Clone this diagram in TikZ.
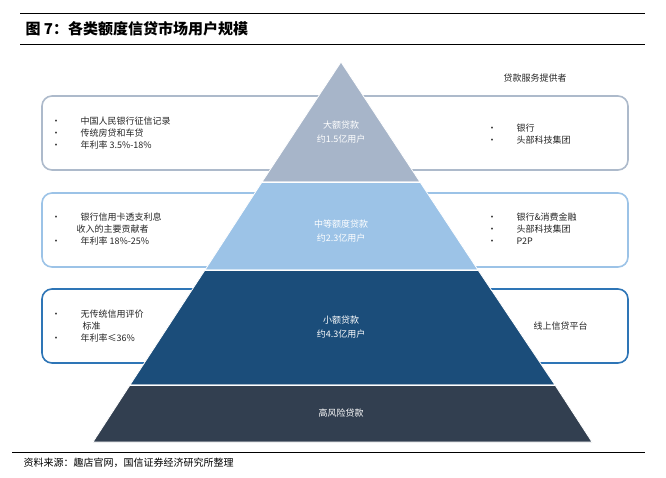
\documentclass[tikz,border=0pt]{standalone}
\usepackage{fontspec}
\setmainfont{Noto Sans CJK SC}
\definecolor{TopGray}{HTML}{A7B5C9}
\definecolor{MidBlue}{HTML}{9CC3E7}
\definecolor{SmallBlue}{HTML}{1B4D7A}
\definecolor{RiskSlate}{HTML}{323F50}
\definecolor{BoxGray}{HTML}{ADBACB}
\definecolor{BoxBlue}{HTML}{2E75B6}
\begin{document}
\begin{tikzpicture}[x=1pt,y=-1pt,
    InfoBox/.style={rounded corners=10pt, line width=1.6pt, fill=white},
    Layer/.style={draw=white, line width=0.8pt},
    LayerText/.style={font=\fontsize{9}{14}\selectfont, text=white, align=center},
    ListText/.style={font=\fontsize{9}{12}\selectfont, anchor=west, align=left, text=black!85}]
     \useasboundingbox (0,0) rectangle (666,477);
     % title
     \draw[line width=1pt] (20,13) -- (645,13);
     \draw[line width=1pt] (20,44) -- (645,44);
     \node[anchor=west, font=\bfseries\fontsize{15}{17}\selectfont] (TitleLabel) at (22,29) {图 7：各类额度信贷市场用户规模};
     % boxes
     \draw[InfoBox, draw=BoxGray] (42,96) rectangle (628,170);
     \draw[InfoBox, draw=MidBlue] (42,193) rectangle (628,267);
     \draw[InfoBox, draw=BoxBlue] (42,289) rectangle (628,363);
     % pyramid
     \fill[Layer, fill=TopGray] (341,62) -- (420,182) -- (262,182) -- cycle;
     \fill[Layer, fill=MidBlue] (262,182) -- (420,182) -- (478,270) -- (205,270) -- cycle;
     \fill[Layer, fill=SmallBlue] (205,270) -- (478,270) -- (555,385) -- (130,385) -- cycle;
     \fill[Layer, fill=RiskSlate] (130,385) -- (555,385) -- (592,442) -- (93,442) -- cycle;
     \draw[white, line width=0.8pt] (262,182) -- (420,182) (205,270) -- (478,270) (130,385) -- (555,385);
     \node[LayerText] (BigLabel) at (341,132) {大额贷款\\约1.5亿用户};
     \node[LayerText] (MidLabel) at (341,231) {中等额度贷款\\约2.3亿用户};
     \node[LayerText] (SmallLabel) at (341,327) {小额贷款\\约4.3亿用户};
     \node[LayerText] (RiskLabel) at (341,413) {高风险贷款};
     % left lists
     \node[ListText] (BigLeft) at (48,133) {•\hspace{20pt}中国人民银行征信记录\\•\hspace{20pt}传统房贷和车贷\\•\hspace{20pt}年利率 3.5\%-18\%};
     \node[ListText] (MidLeft) at (48,229) {•\hspace{20pt}银行信用卡透支利息\\\hspace{25pt}收入的主要贡献者\\•\hspace{20pt}年利率 18\%-25\%};
     \node[ListText] (SmallLeft) at (48,326) {•\hspace{20pt}无传统信用评价\\\hspace{31pt}标准\\•\hspace{20pt}年利率≤36\%};
     % right lists
     \node[font=\fontsize{9}{11}\selectfont, text=black!85] (ProviderLabel) at (535,78) {贷款服务提供者};
     \node[ListText] (BigRight) at (484,134) {•\hspace{20pt}银行\\•\hspace{20pt}头部科技集团};
     \node[ListText] (MidRight) at (484,229) {•\hspace{20pt}银行\&消费金融\\•\hspace{20pt}头部科技集团\\•\hspace{20pt}P2P};
     \node[ListText] (SmallRight) at (530,326) {线上信贷平台};
     % source
     \draw[line width=0.8pt] (12,452) -- (645,452);
     \node[anchor=west, font=\fontsize{10}{12}\selectfont] (SourceLabel) at (20,463) {资料来源：趣店官网，国信证券经济研究所整理};
\end{tikzpicture}
\end{document}
